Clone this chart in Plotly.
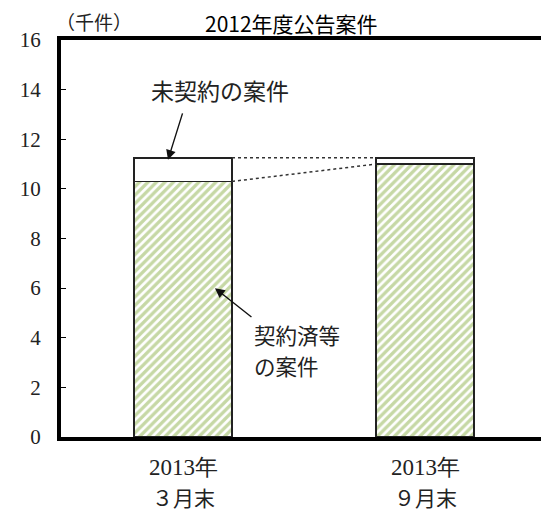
import plotly.graph_objects as go

# 2012年度公告案件の契約状況（千件）
period_line1 = ["2013年", "2013年"]
period_line2 = ["３月末", "９月末"]
contracted = [10.3, 11.0]      # 契約済等の案件
uncontracted = [0.95, 0.25]    # 未契約の案件
y_ticks = [0, 2, 4, 6, 8, 10, 12, 14, 16]

xpos = [0, 1]
bar_w = 0.405
green = "#8DB24C"
serif = "Liberation Serif, serif"
jp = "Noto Sans CJK JP, sans-serif"

# plot-area geometry in pixels, used to place free text in paper units
L, R, T, B = 61, 541, 40, 437


def px(x):
    return (x - L) / (R - L)


def py(y):
    return (B - y) / (B - T)


fig = go.Figure()
fig.add_trace(go.Bar(
    x=xpos, y=contracted, width=bar_w,
    marker=dict(color="white",
                line=dict(color="#222", width=1.5),
                pattern=dict(shape="/", fgcolor=green, bgcolor="white",
                             size=6, solidity=0.55)),
    hoverinfo="y", showlegend=False))
fig.add_trace(go.Bar(
    x=xpos, y=uncontracted, width=bar_w,
    marker=dict(color="white", line=dict(color="#222", width=1.5)),
    hoverinfo="y", showlegend=False))

# dotted connectors between the two bars
totals = [c + u for c, u in zip(contracted, uncontracted)]
for a, b in [(totals[0], totals[1]), (contracted[0], contracted[1])]:
    fig.add_shape(type="line", xref="x", yref="y",
                  x0=xpos[0] + bar_w / 2, x1=xpos[1] - bar_w / 2, y0=a, y1=b,
                  line=dict(color="#333", width=1.5, dash="dot"))

# category labels below the axis
for xi, l1, l2 in zip(xpos, period_line1, period_line2):
    fig.add_annotation(x=xi, y=0, xref="x", yref="y", text=l1, showarrow=False,
                       yshift=-30, font=dict(family=serif, size=23, color="#222"))
    fig.add_annotation(x=xi, y=0, xref="x", yref="y", text=l2, showarrow=False,
                       yshift=-60, font=dict(family=jp, size=21, color="#222"))

# callout arrows
fig.add_annotation(x=-0.062, y=11.17, xref="x", yref="y", ax=15, ay=-48,
                   text="", showarrow=True,
                   arrowhead=2, arrowsize=1.4, arrowwidth=1.4, arrowcolor="#111")
fig.add_annotation(x=0.132, y=6.0, xref="x", yref="y", ax=38, ay=30,
                   text="", showarrow=True,
                   arrowhead=2, arrowsize=1.4, arrowwidth=1.4, arrowcolor="#111")


def label(x, y, text, size, color="#222", xanchor="center"):
    fig.add_annotation(x=px(x), y=py(y), xref="paper", yref="paper",
                       xanchor=xanchor, yanchor="middle",
                       text=text, showarrow=False,
                       font=dict(family=jp, size=size, color=color))


# callout texts, unit and title
label(220, 90, "未契約の案件", 23)
label(252, 334, "契約済等", 21.5, xanchor="left")
label(252, 365, "の案件", 21.5, xanchor="left")
label(94, 22, "（千件）", 19)
label(291, 23, "2012年度公告案件", 21, color="#000")

fig.update_layout(
    width=541, height=512,
    margin=dict(l=L, r=541 - R, t=T, b=512 - B),
    barmode="stack",
    plot_bgcolor="white", paper_bgcolor="white",
    xaxis=dict(range=[-0.504, 1.479], showticklabels=False, ticks="",
               showgrid=False, zeroline=False, showline=True,
               linecolor="black", linewidth=4, mirror=True, fixedrange=True),
    yaxis=dict(range=[0, 16], tickvals=y_ticks, ticks="inside", ticklen=5,
               tickcolor="black", showgrid=False, zeroline=False,
               showline=True, linecolor="black", linewidth=4,
               ticklabelstandoff=12,
               tickfont=dict(family=serif, size=21, color="#222")),
)
fig.write_html("out.html")
